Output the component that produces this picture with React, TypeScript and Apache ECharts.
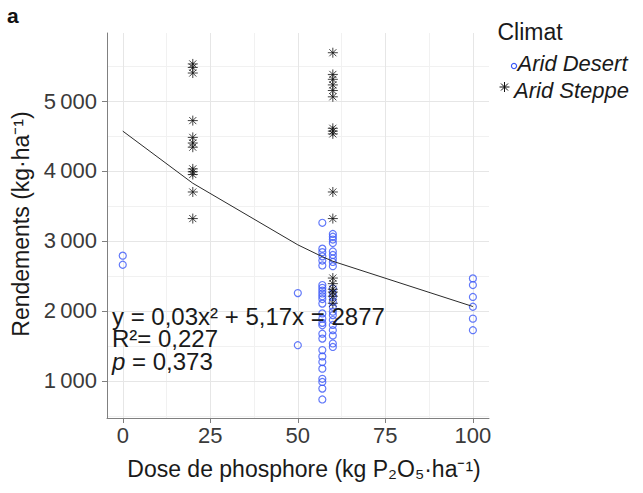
import React, { useEffect, useRef } from 'react';
import * as echarts from 'echarts';

// ---- axis breaks ----
const xBreaks = [0, 25, 50, 75, 100];
const xMinorBreaks = [12.5, 37.5, 62.5, 87.5];
const yBreaks = [1000, 2000, 3000, 4000, 5000];
const yMinorBreaks = [500, 1500, 2500, 3500, 4500, 5500];

// ---- Arid Desert yields (kg/ha) by dose ----
const desertDoses = [0, 50, 57, 60, 100];
const desertAt0 = [2790, 2660];
const desertAt50 = [2255, 1510];
const desertAt57 = [3260, 2890, 2840, 2780, 2720, 2650, 2370, 2330, 2290, 2250, 2210, 2170, 2105, 1965, 1890, 1830, 1795, 1675, 1605, 1440, 1350, 1270, 1175, 1030, 985, 890, 735];
const desertAt60 = [3100, 3060, 3020, 2970, 2850, 2800, 2750, 2700, 2640, 2320, 2250, 2200, 2130, 2060, 1990, 1940, 1870, 1800, 1725, 1650, 1535, 1485];
const desertAt100 = [2465, 2370, 2200, 2060, 1890, 1725];

// ---- Arid Steppe yields (kg/ha) by dose ----
const steppeDoses = [20, 60];
const steppeAt20 = [5530, 5480, 5400, 4720, 4480, 4400, 4340, 4030, 3990, 3950, 3700, 3320];
const steppeAt60 = [5690, 5380, 5310, 5230, 5150, 5060, 4610, 4570, 4530, 3700, 3320, 2470, 2390, 2310, 2270, 2210, 2110];

const fitDose = [0, 20, 50, 57, 60, 100];
const fitYield = [4570, 3825, 2945, 2775, 2710, 2063];

// ---- texts ----
const panelLabel = 'a';
const legendTitle = 'Climat';
const seriesNames = ['Arid Desert', 'Arid Steppe'];
const xTitle = 'Dose de phosphore (kg P\u2082O\u2085\u00b7ha\u207b\u00b9)';
const yTitle = 'Rendements (kg\u00b7ha\u207b\u00b9)';
const eqLine1 = 'y = 0,03x\u00b2 + 5,17x = 2877';
const eqLine2 = 'R\u00b2= 0,227';
const eqLine3Value = ' = 0,373';

const FONT = '"Liberation Sans", Arial, Helvetica, sans-serif';
const BLUE = '#3b58f7';
const STAR = 'path://M0,5L10,5M5,0L5,10M1.46,1.46L8.54,8.54M8.54,1.46L1.46,8.54';

const toPairs = (x: number, ys: number[]) => ys.map((y) => [x, y]);

export default function App() {
  const ref = useRef<HTMLDivElement>(null);
  useEffect(() => {
    if (!ref.current) return;
    const chart = echarts.init(ref.current, undefined, { renderer: 'svg' });

    const desertData = [
      ...toPairs(desertDoses[0], desertAt0),
      ...toPairs(desertDoses[1], desertAt50),
      ...toPairs(desertDoses[2], desertAt57),
      ...toPairs(desertDoses[3], desertAt60),
      ...toPairs(desertDoses[4], desertAt100),
    ];
    const steppeData = [
      ...toPairs(steppeDoses[0], steppeAt20),
      ...toPairs(steppeDoses[1], steppeAt60),
    ];
    const fitData = fitDose.map((x, i) => [x, fitYield[i]]);

    const major = { color: '#e6e6e6', width: 1, type: 'solid' };
    const minor = { color: '#f1f1f1', width: 1, type: 'solid' };
    const gridLines = [
      ...xMinorBreaks.map((v) => ({ xAxis: v, lineStyle: minor })),
      ...yMinorBreaks.map((v) => ({ yAxis: v, lineStyle: minor })),
      ...xBreaks.map((v) => ({ xAxis: v, lineStyle: major })),
      ...yBreaks.map((v) => ({ yAxis: v, lineStyle: major })),
    ];

    const axisColor = '#808080';
    const labelColor = '#3a3a3a';

    chart.setOption({
      animation: false,
      backgroundColor: '#ffffff',
      grid: { left: 107, right: 154, top: 33, bottom: 75 },
      xAxis: {
        type: 'value',
        min: -4.5,
        max: 104.6,
        axisLine: { show: true, onZero: false, lineStyle: { color: axisColor, width: 1 } },
        axisTick: { show: true, customValues: xBreaks, length: 5, lineStyle: { color: axisColor } },
        axisLabel: {
          customValues: xBreaks,
          fontSize: 22,
          fontFamily: FONT,
          color: labelColor,
          margin: 6,
        },
        splitLine: { show: false },
      },
      yAxis: {
        type: 'value',
        min: 470,
        max: 5972,
        axisLine: { show: true, onZero: false, lineStyle: { color: axisColor, width: 1 } },
        axisTick: { show: true, customValues: yBreaks, length: 5, lineStyle: { color: axisColor } },
        axisLabel: {
          customValues: yBreaks,
          fontSize: 22,
          fontFamily: FONT,
          color: labelColor,
          margin: 10,
          formatter: (v: number) =>
            `${Math.floor(v / 1000)}\u2009${String(v % 1000).padStart(3, '0')}`,
        },
        splitLine: { show: false },
      },
      series: [
        {
          type: 'scatter',
          data: [],
          silent: true,
          z: 0,
          markLine: {
            silent: true,
            symbol: ['none', 'none'],
            label: { show: false },
            animation: false,
            z: 0,
            data: gridLines,
          },
        },
        {
          name: seriesNames[0],
          type: 'scatter',
          data: desertData,
          symbol: 'circle',
          symbolSize: 7,
          itemStyle: { color: 'rgba(0,0,0,0)', borderColor: BLUE, borderWidth: 1.2 },
          z: 3,
        },
        {
          name: seriesNames[1],
          type: 'scatter',
          data: steppeData,
          symbol: STAR,
          symbolSize: 10,
          itemStyle: { color: 'rgba(0,0,0,0)', borderColor: '#111111', borderWidth: 1 },
          z: 4,
        },
        {
          type: 'line',
          data: fitData,
          smooth: false,
          showSymbol: false,
          symbol: 'none',
          lineStyle: { color: '#2b2b2b', width: 1 },
          z: 5,
        },
      ],
      graphic: [
        {
          type: 'text',
          x: 7,
          y: 15,
          style: { text: panelLabel, font: `bold 21px ${FONT}`, fill: '#111', verticalAlign: 'middle' },
        },
        {
          type: 'text',
          x: 20.5,
          y: 224,
          rotation: Math.PI / 2,
          style: { text: yTitle, font: `23px ${FONT}`, fill: '#1a1a1a', align: 'center', verticalAlign: 'middle' },
        },
        {
          type: 'text',
          x: 304,
          y: 468.5,
          style: { text: xTitle, font: `23px ${FONT}`, fill: '#1a1a1a', align: 'center', verticalAlign: 'middle' },
        },
        {
          type: 'text',
          x: 112,
          y: 316,
          z: 10,
          style: { text: eqLine1, font: `24px ${FONT}`, fill: '#1a1a1a', verticalAlign: 'middle' },
        },
        {
          type: 'text',
          x: 112,
          y: 338.5,
          z: 10,
          style: { text: eqLine2, font: `24px ${FONT}`, fill: '#1a1a1a', verticalAlign: 'middle' },
        },
        {
          type: 'text',
          x: 112,
          y: 361,
          z: 10,
          style: {
            text: `{i|p}${eqLine3Value}`,
            font: `24px ${FONT}`,
            fill: '#1a1a1a',
            verticalAlign: 'middle',
            rich: { i: { fontStyle: 'italic', fontSize: 24, fontFamily: FONT, fill: '#1a1a1a' } },
          },
        },
        // legend
        {
          type: 'text',
          x: 497.5,
          y: 32,
          style: { text: legendTitle, font: `23px ${FONT}`, fill: '#1a1a1a', verticalAlign: 'middle' },
        },
        {
          type: 'circle',
          shape: { cx: 514, cy: 66, r: 2.6 },
          style: { fill: 'none', stroke: BLUE, lineWidth: 1.2 },
        },
        {
          type: 'text',
          x: 517.5,
          y: 63,
          style: { text: seriesNames[0], font: `italic 22px ${FONT}`, fill: '#1a1a1a', verticalAlign: 'middle' },
        },
        {
          type: 'group',
          x: 504.5,
          y: 87,
          children: [
            { type: 'line', shape: { x1: -5, y1: 0, x2: 5, y2: 0 }, style: { stroke: '#111', lineWidth: 1 } },
            { type: 'line', shape: { x1: 0, y1: -5, x2: 0, y2: 5 }, style: { stroke: '#111', lineWidth: 1 } },
            { type: 'line', shape: { x1: -3.5, y1: -3.5, x2: 3.5, y2: 3.5 }, style: { stroke: '#111', lineWidth: 1 } },
            { type: 'line', shape: { x1: 3.5, y1: -3.5, x2: -3.5, y2: 3.5 }, style: { stroke: '#111', lineWidth: 1 } },
          ],
        },
        {
          type: 'text',
          x: 514,
          y: 90,
          style: { text: seriesNames[1], font: `italic 22px ${FONT}`, fill: '#1a1a1a', verticalAlign: 'middle' },
        },
      ],
    });

    return () => chart.dispose();
  }, []);

  return (
    <div
      ref={ref}
      style={{ position: 'absolute', left: 0, top: 0, width: 643, height: 493, background: '#fff' }}
    />
  );
}
